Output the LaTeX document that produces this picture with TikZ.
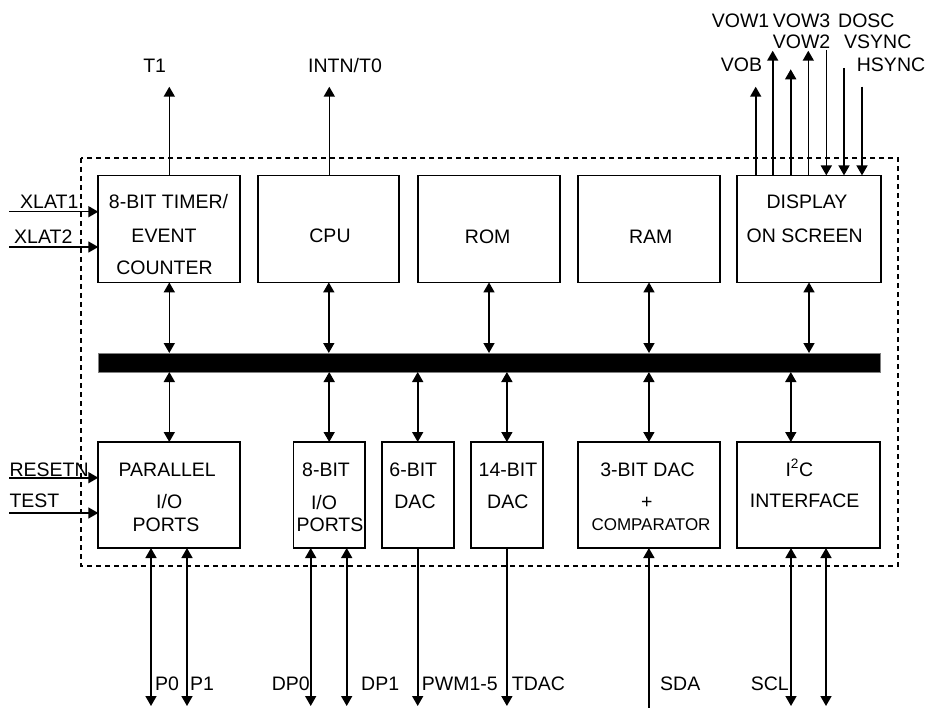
\documentclass[tikz,border=0pt]{standalone}
\usepackage{fontspec}
\setmainfont{Liberation Sans}
\usetikzlibrary{arrows.meta}
\begin{document}
\begin{tikzpicture}[x=1pt,y=-1pt,
  >={Triangle[length=10pt,width=11pt]},
  blk/.style={draw,line width=1.7pt,inner sep=0,outer sep=0},
  txt/.style={anchor=base,inner sep=0,font=\fontsize{19.5}{22}\selectfont},
  txtw/.style={anchor=base west,inner sep=0,font=\fontsize{19.5}{22}\selectfont},
  sm/.style={anchor=base,inner sep=0,font=\fontsize{17}{20}\selectfont},
  wire/.style={line width=1.6pt},
  frame/.style={line width=2pt,dash pattern=on 5pt off 4pt}]
\useasboundingbox (0,0) rectangle (928,708);

% frame
\draw[frame] (81,158) rectangle (898,566);

% top blocks
\node[blk,minimum width=142,minimum height=107] (timer) at (169.3,228.9) {};
\node[blk,minimum width=141,minimum height=107] (cpu) at (328.8,228.9) {};
\node[blk,minimum width=142.6,minimum height=107] (rom) at (489,228.9) {};
\node[blk,minimum width=142.6,minimum height=107] (ram) at (649,228.9) {};
\node[blk,minimum width=144,minimum height=107] (disp) at (809,228.9) {};

% bus
\node[draw=gray,fill=black,line width=0.8pt,minimum width=782,minimum height=19,inner sep=0,outer sep=0] (bus) at (489,362.5) {};

% bottom blocks
\node[blk,minimum width=142,minimum height=106] (par) at (169.3,495) {};
\node[blk,minimum width=71.7,minimum height=106] (io8) at (329.2,495) {};
\node[blk,minimum width=72,minimum height=106] (dac6) at (417.7,495) {};
\node[blk,minimum width=71.7,minimum height=106] (dac14) at (506.9,495) {};
\node[blk,minimum width=142.3,minimum height=106] (dac3) at (648.9,495) {};
\node[blk,minimum width=143,minimum height=106] (i2c) at (808.8,495) {};

% block texts
\node[txt] (t1a) at (168.5,208.5) {8-BIT TIMER/};
\node[txt] (t1b) at (164,243) {EVENT};
\node[txt] (t1c) at (164.5,275) {COUNTER};
\node[txt] (t2) at (330,243) {CPU};
\node[txt] (t3) at (487.7,243.5) {ROM};
\node[txt] (t4) at (650.8,243.5) {RAM};
\node[txt] (t5a) at (807,208.5) {DISPLAY};
\node[txt] (t5b) at (804.7,243) {ON SCREEN};

\node[txt] (b1a) at (167.2,476) {PARALLEL};
\node[txt] (b1b) at (169.2,508) {I/O};
\node[txt] (b1c) at (166,531) {PORTS};
\node[txt] (b2a) at (326,476) {8-BIT};
\node[txt] (b2b) at (324,509) {I/O};
\node[txt] (b2c) at (330,531) {PORTS};
\node[txt] (b3a) at (413.3,476) {6-BIT};
\node[txt] (b3b) at (415,508) {DAC};
\node[txt] (b4a) at (508,476) {14-BIT};
\node[txt] (b4b) at (507.8,508) {DAC};
\node[txt] (b5a) at (647.5,476) {3-BIT DAC};
\node[txt] (b5b) at (646.7,508) {+};
\node[sm] (b5c) at (651,530.5) {COMPARATOR};
\node[txt] (b6a) at (799.3,476) {I\textsuperscript{2}C};
\node[txt] (b6b) at (804.7,507) {INTERFACE};

% bus connections (top)
\foreach \b in {timer,cpu,rom,ram,disp}
  \draw[wire,<->] (\b.south) -- (\b.south |- bus.north);
% bus connections (bottom)
\foreach \b in {par,io8,dac6,dac14,dac3}
  \draw[wire,<->] (\b.north |- bus.south) -- (\b.north);
\draw[wire,<->] ([xshift=-18pt]i2c.north |- bus.south) -- ([xshift=-18pt]i2c.north);

% top outputs
\coordinate (t1e) at (169.3,86.7);
\coordinate (t0e) at (329.3,86.7);
\draw[wire,->] (timer.north) -- (t1e);
\draw[wire,->] (timer.north -| t0e) -- (t0e);
\node[txt] (lT1) at (154.7,72.5) {T1};
\node[txt] (lT0) at (345,72.5) {INTN/T0};

% display signals
\coordinate (vob) at (755.7,86.7);
\coordinate (vow1) at (772.7,50.7);
\coordinate (vow2) at (790.7,69.3);
\coordinate (vow3) at (808.3,50.7);
\coordinate (dosc) at (826.3,50);
\coordinate (vsync) at (844,68);
\coordinate (hsync) at (862,86.7);
\foreach \c in {vob,vow1,vow2,vow3}
  \draw[wire,->] (disp.north -| \c) -- (\c);
\foreach \c in {dosc,vsync,hsync}
  \draw[wire,->] (\c) -- (disp.north -| \c);
\node[txtw] (lvow1) at (711.7,27.5) {VOW1};
\node[txtw] (lvow3) at (772.7,27.5) {VOW3};
\node[txtw] (ldosc) at (838,27.5) {DOSC};
\node[txtw] (lvow2) at (772.7,48.5) {VOW2};
\node[txtw] (lvsync) at (844,48.5) {VSYNC};
\node[txtw] (lvob) at (720.7,72) {VOB};
\node[txtw] (lhsync) at (856.7,72) {HSYNC};

% left inputs
\coordinate (x1) at (9,211.7);
\coordinate (x2) at (9,247);
\coordinate (rs) at (9,477.7);
\coordinate (ts) at (9,513);
\draw[wire,->] (x1) -- (x1 -| timer.west);
\draw[wire,->] (x2) -- (x2 -| timer.west);
\draw[wire,->] (rs) -- (rs -| par.west);
\draw[wire,->] (ts) -- (ts -| par.west);
\node[txtw] (lx1) at (20,208.5) {XLAT1};
\node[txtw] (lx2) at (14,244) {XLAT2};
\node[txtw] (lrs) at (9.3,476) {RESETN};
\node[txtw] (lts) at (9.3,507) {TEST};

% bottom signals
\coordinate (p0) at (151,706);
\coordinate (p1) at (187,706);
\coordinate (dp0) at (310.7,706);
\coordinate (dp1) at (346.7,706);
\coordinate (pwm) at (417.7,706);
\coordinate (tdac) at (506.9,706);
\coordinate (sda) at (648.9,708);
\coordinate (scl) at (791,706);
\coordinate (scl2) at (826,706);
\draw[wire,<->] (par.south -| p0) -- (p0);
\draw[wire,<->] (par.south -| p1) -- (p1);
\draw[wire,<->] (io8.south -| dp0) -- (dp0);
\draw[wire,<->] (io8.south -| dp1) -- (dp1);
\draw[wire,->] (dac6.south) -- (pwm);
\draw[wire,->] (dac14.south) -- (tdac);
\draw[wire,->] (sda) -- (dac3.south);
\draw[wire,<->] (i2c.south -| scl) -- (scl);
\draw[wire,<->] (i2c.south -| scl2) -- (scl2);
\node[txtw] (lp0) at (155,690) {P0};
\node[txtw] (lp1) at (190,690) {P1};
\node[txtw] (ldp0) at (271.7,690) {DP0};
\node[txtw] (ldp1) at (361,690) {DP1};
\node[txtw] (lpwm) at (421.7,690) {PWM1-5};
\node[txtw] (ltdac) at (511.7,690) {TDAC};
\node[txtw] (lsda) at (660,690) {SDA};
\node[txtw] (lscl) at (750.7,690) {SCL};
\end{tikzpicture}
\end{document}
